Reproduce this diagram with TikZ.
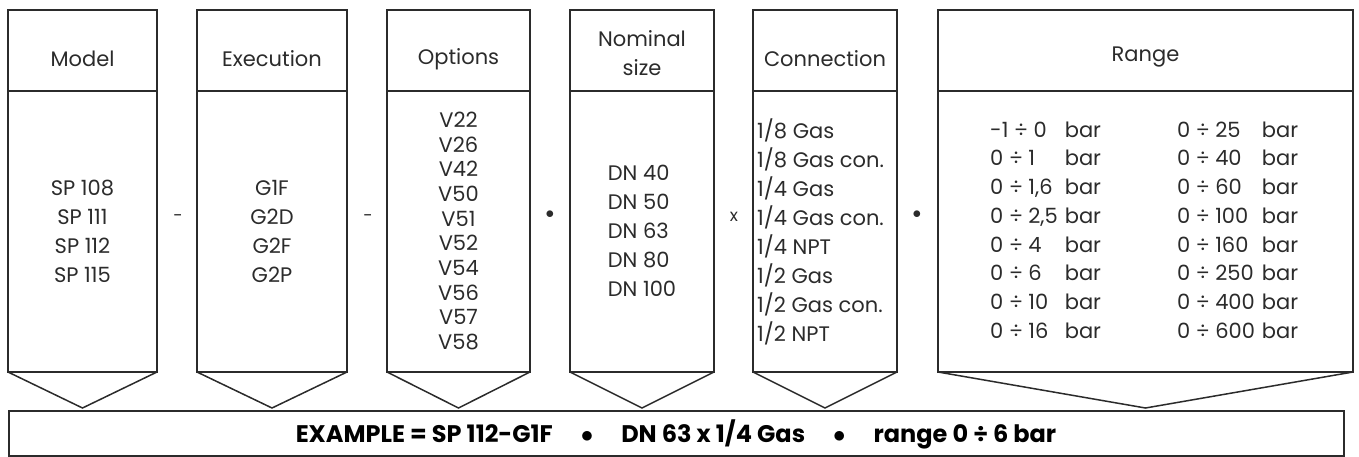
\documentclass[tikz,border=0pt]{standalone}
\usepackage{fontspec}
\setmainfont{Poppins}
\definecolor{ink}{HTML}{2B2B2B}
\tikzset{
  frame/.style={draw=ink,line width=1.8pt},
  tip/.style={draw=ink,line width=1.5pt,line join=miter},
  label/.style={text=ink,font=\fontsize{21}{29}\selectfont,inner sep=0pt},
  sep/.style={text=ink,font=\fontsize{17}{20}\selectfont,inner sep=0pt}
}
\begin{document}
\begin{tikzpicture}[x=1pt,y=-1pt]
  \useasboundingbox (0,0) rectangle (1359,457);
  % boxes with header line and pointer
  \foreach \l/\r in {8/157,197/347,387/530,570/714,753/897,938/1353}{
    \draw[frame] (\l,10) rectangle (\r,372);
    \draw[frame] (\l,91) -- (\r,91);
    \draw[tip] (\l,372) -- ({(\l+\r)/2},408) -- (\r,372);
  }
  \draw[frame] (9,411) rectangle (1344,456);

  % headers
  \node[label] (hmodel) at (82.5,59) {Model};
  \node[label] (hexec) at (272,59) {Execution};
  \node[label] (hopt) at (458.5,59) {Options};
  \node[label,align=center] (hsize) at (642,53) {Nominal\\size};
  \node[label] (hconn) at (825,59) {Connection};
  \node[label] (hrange) at (1145.5,57) {Range};

  % lists
  \node[label,align=center] (models) at (82.5,231) {SP 108\\SP 111\\SP 112\\SP 115};
  \node[label,align=center] (execs) at (272,231) {G1F\\G2D\\G2F\\G2P};
  \node[label,align=center,font=\fontsize{21}{24.7}\selectfont] (opts) at (458.5,231)
    {V22\\V26\\V42\\V50\\V51\\V52\\V54\\V56\\V57\\V58};
  \node[label,align=left] (sizes) at (642,231) {DN 40\\DN 50\\DN 63\\DN 80\\DN 100};
  \node[label,align=left,anchor=west] (conns) at (757,232)
    {1/8 Gas\\1/8 Gas con.\\1/4 Gas\\1/4 Gas con.\\1/4 NPT\\1/2 Gas\\1/2 Gas con.\\1/2 NPT};
  \node[label,font=\fontsize{21}{28.7}\selectfont,anchor=west] (ranges) at (990,232)
    {\begin{tabular}{@{}l@{\hspace{7pt}}l@{\hspace{76pt}}l@{\hspace{7pt}}l@{}}
      -1 ÷ 0 & bar & 0 ÷ 25 & bar\\
      0 ÷ 1 & bar & 0 ÷ 40 & bar\\
      0 ÷ 1,6 & bar & 0 ÷ 60 & bar\\
      0 ÷ 2,5 & bar & 0 ÷ 100 & bar\\
      0 ÷ 4 & bar & 0 ÷ 160 & bar\\
      0 ÷ 6 & bar & 0 ÷ 250 & bar\\
      0 ÷ 10 & bar & 0 ÷ 400 & bar\\
      0 ÷ 16 & bar & 0 ÷ 600 & bar
    \end{tabular}};

  % separators
  \node[sep] (s1) at (178,218) {-};
  \node[sep] (s2) at (368,218) {-};
  \node[sep] (s3) at (550,215) {$\bullet$};
  \node[sep] (s4) at (734,217) {x};
  \node[sep] (s5) at (917,215) {$\bullet$};

  % example line
  \node[text=black,font=\fontsize{24}{27}\selectfont\bfseries,inner sep=0pt] (example) at (676,434)
    {EXAMPLE = SP 112-G1F\hspace{28pt}$\bullet$\hspace{28pt}DN 63 x 1/4 Gas\hspace{28pt}$\bullet$\hspace{28pt}range 0 ÷ 6 bar};
\end{tikzpicture}
\end{document}
